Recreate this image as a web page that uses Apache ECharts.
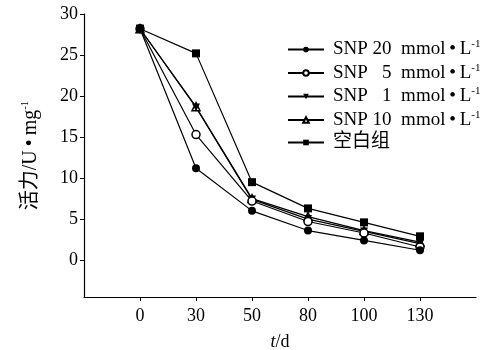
<!DOCTYPE html>
<html>
<head>
<meta charset="utf-8">
<script src="https://cdn.jsdelivr.net/npm/echarts@6/dist/echarts.min.js"></script>
<style>
  html, body { margin: 0; padding: 0; background: #fff; }
  #chart { width: 481px; height: 350px; }
</style>
</head>
<body>
<div id="chart"></div>
<script>
// x categories (blank ones pad the axis at both ends)
const days = ['0', '30', '50', '80', '100', '130']
const yTicks = [0, 5, 10, 15, 20, 25, 30]

const snp20 = [28.2, 11.2, 6.0, 3.6, 2.4, 1.2]
const snp5 = [28.2, 15.3, 7.2, 4.7, 3.3, 1.6]
const snp1 = [28.2, 18.6, 7.4, 5.0, 3.5, 2.0]
const snp10 = [28.2, 18.7, 7.5, 5.3, 3.6, 2.2]
const blank = [28.2, 25.2, 9.5, 6.3, 4.6, 2.9]

const FONT = '"Liberation Serif", "Noto Sans CJK SC", serif'
const SUP = { fontSize: 11, fontFamily: FONT, color: '#000', verticalAlign: 'bottom', padding: [0, 0, 10, 0] }

var myChart = echarts.init(document.getElementById('chart'))

function mkSeries(name, vals, symbol, filled, rotate) {
  return {
    name: name,
    type: 'line',
    data: ['-'].concat(vals).concat(['-']),
    symbol: symbol,
    symbolSize: 8,
    symbolRotate: rotate || 0,
    showAllSymbol: true,
    lineStyle: { color: '#000', width: 1.2 },
    itemStyle: {
      color: filled ? '#000' : '#fff',
      borderColor: '#000',
      borderWidth: filled ? 0 : 1.5
    },
    emphasis: { disabled: true },
    animation: false
  }
}

myChart.setOption({
  animation: false,
  grid: { left: 84, right: 5, top: 14, bottom: 53, outerBoundsMode: 'none' },
  legend: {
    orient: 'vertical',
    left: 282,
    top: 34,
    itemGap: 3.5,
    itemWidth: 36,
    itemHeight: 7,
    textStyle: {
      fontFamily: FONT,
      fontSize: 19,
      color: '#000',
      padding: [0, 0, 0, 4],
      rich: { sup: SUP }
    },
    formatter: function (name) {
      if (name === '空白组') return name
      return name + '  mmol\u2009•\u2009L{sup|-1}'
    },
    data: ['SNP 20', 'SNP   5', 'SNP   1', 'SNP 10', '空白组']
  },
  xAxis: {
    type: 'category',
    boundaryGap: false,
    data: [''].concat(days).concat(['']),
    axisLine: { onZero: false, lineStyle: { color: '#000', width: 1.2 } },
    axisTick: {
      show: true,
      length: 4,
      lineStyle: { color: '#000' },
      interval: function (i, v) { return v !== '' }
    },
    axisLabel: {
      color: '#000', fontFamily: FONT, fontSize: 18, margin: 10, interval: 0
    },
    name: '{i|t}/d',
    nameLocation: 'middle',
    nameGap: 36,
    nameTextStyle: {
      color: '#000', fontFamily: FONT, fontSize: 18,
      rich: { i: { fontStyle: 'italic', fontFamily: FONT, fontSize: 18, color: '#000' } }
    }
  },
  yAxis: {
    type: 'value',
    min: -4.5,
    max: 30,
    splitLine: { show: false },
    axisLine: { show: true, lineStyle: { color: '#000', width: 1.2 } },
    axisTick: { show: true, length: 4, customValues: yTicks, lineStyle: { color: '#000' } },
    axisLabel: { color: '#000', fontFamily: FONT, fontSize: 18, margin: 6, customValues: yTicks },
    name: '活力/U\u2009•\u2009mg{sup|-1}',
    nameLocation: 'middle',
    nameRotate: 90,
    nameGap: 43,
    nameTextStyle: {
      color: '#000', fontFamily: FONT, fontSize: 20,
      rich: { sup: SUP }
    }
  },
  series: [
    mkSeries('SNP 10', snp10, 'triangle', false),
    mkSeries('SNP   1', snp1, 'triangle', true, 180),
    mkSeries('SNP   5', snp5, 'circle', false),
    mkSeries('空白组', blank, 'rect', true),
    mkSeries('SNP 20', snp20, 'circle', true)
  ]
})
</script>
</body>
</html>
